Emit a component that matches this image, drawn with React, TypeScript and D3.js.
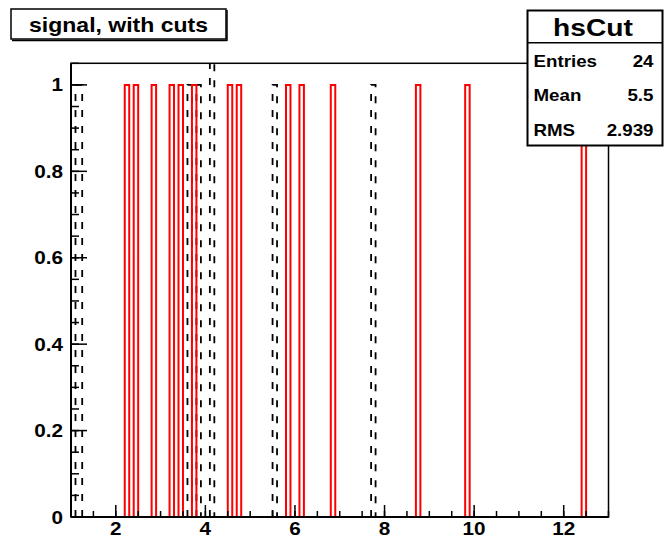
import React from 'react';
import * as d3 from 'd3';

// ---- data ----
const xDomain: [number, number] = [1, 13];
const yDomain: [number, number] = [0, 1.05];
const binWidth = 0.1;
const cutBinLow = [2.2, 2.4, 2.8, 3.2, 3.4, 3.7, 4.5, 4.7, 5.8, 6.1, 6.8, 8.7, 9.8, 12.4];
const cutBinContent = [1, 1, 1, 1, 1, 1, 1, 1, 1, 1, 1, 1, 1, 1];
const refBinLow = [1.1, 3.6, 3.8, 4.1, 5.5, 7.7];
const refBinHigh = [1.25, 3.7, 3.9, 4.2, 5.6, 7.8];
const refBinContent = [1, 1, 1, 2, 1, 1];
const xTickValues = [2, 4, 6, 8, 10, 12];
const xTickLabels = ['2', '4', '6', '8', '10', '12'];
const yTickValues = [0, 0.2, 0.4, 0.6, 0.8, 1];
const yTickLabels = ['0', '0.2', '0.4', '0.6', '0.8', '1'];
const titleText = 'signal, with cuts';
const statsName = 'hsCut';
const statsLabels = ['Entries', 'Mean', 'RMS'];
const statsValues = ['24', '5.5', '2.939'];

const FONT = '"Liberation Sans", Arial, Helvetica, sans-serif';
const SX = 1.15;

function SText(props: { x: number; y: number; size: number; anchor?: string; children: React.ReactNode }) {
  const { x, y, size, anchor = 'start', children } = props;
  return (
    <text
      transform={`translate(${x},${y}) scale(${SX},1)`}
      textAnchor={anchor as any}
      fontFamily={FONT}
      fontWeight="bold"
      fontSize={size}
      fill="#000"
    >
      {children}
    </text>
  );
}

export default function App() {
  const W = 665;
  const H = 542;
  const left = 71;
  const right = 608.5;
  const top = 63.3;
  const bottom = 517;

  const x = d3.scaleLinear().domain(xDomain).range([left, right]);
  const y = d3.scaleLinear().domain(yDomain).range([bottom, top]);

  const xMinor = d3.range(xDomain[0], xDomain[1] + 1e-6, 0.5);
  const yMinor = d3.range(0, yDomain[1] + 1e-6, 0.05);

  const barPath = (lo: number, hi: number, v: number) => {
    const p = d3.path();
    p.moveTo(x(lo), y(0));
    p.lineTo(x(lo), y(v));
    p.lineTo(x(hi), y(v));
    p.lineTo(x(hi), y(0));
    return p.toString();
  };

  return (
    <svg width={W} height={H} style={{ position: 'absolute', left: 0, top: 0, background: '#fff' }}>
      <defs>
        <clipPath id="frameClip">
          <rect x={left} y={top} width={right - left} height={bottom - top} />
        </clipPath>
      </defs>
      <rect x={0} y={0} width={W} height={H} fill="#fff" />

      <g clipPath="url(#frameClip)">
        {refBinLow.map((lo, i) => (
          <path
            key={'r' + i}
            d={barPath(lo, refBinHigh[i], refBinContent[i])}
            fill="none"
            stroke="#000"
            strokeWidth={1.8}
            strokeDasharray="7,9"
          />
        ))}
        {cutBinLow.map((lo, i) => (
          <path
            key={'c' + i}
            d={barPath(lo, lo + binWidth, cutBinContent[i])}
            fill="none"
            stroke="#ff0000"
            strokeWidth={2}
          />
        ))}
      </g>

      {/* frame */}
      <rect x={left} y={top} width={right - left} height={bottom - top} fill="none" stroke="#000" strokeWidth={1.5} />
      <line x1={left} x2={right} y1={bottom} y2={bottom} stroke="#000" strokeWidth={2} />
      <line x1={left} x2={left} y1={top} y2={bottom} stroke="#000" strokeWidth={2} />

      {/* x ticks */}
      {xMinor.map((v, i) => (
        <line key={'xm' + i} x1={x(v)} x2={x(v)} y1={bottom} y2={bottom - 6} stroke="#000" strokeWidth={1.5} />
      ))}
      {xTickValues.map((v, i) => (
        <line key={'xM' + i} x1={x(v)} x2={x(v)} y1={bottom} y2={bottom - 12} stroke="#000" strokeWidth={1.5} />
      ))}
      {xTickValues.map((v, i) => (
        <SText key={'xl' + i} x={x(v)} y={535} size={18} anchor="middle">
          {xTickLabels[i]}
        </SText>
      ))}

      {/* y ticks */}
      {yMinor.map((v, i) => (
        <line key={'ym' + i} x1={left} x2={left + 8} y1={y(v)} y2={y(v)} stroke="#000" strokeWidth={1.5} />
      ))}
      {yTickValues.map((v, i) => (
        <line key={'yM' + i} x1={left} x2={left + 16} y1={y(v)} y2={y(v)} stroke="#000" strokeWidth={1.5} />
      ))}
      {yTickValues.map((v, i) => (
        <SText key={'yl' + i} x={63} y={y(v) + 6.5} size={18} anchor="end">
          {yTickLabels[i]}
        </SText>
      ))}

      {/* title box */}
      <rect x={11} y={9} width={215} height={30} fill="#fff" stroke="#000" strokeWidth={1.5} />
      <line x1={227} x2={227} y1={10} y2={41} stroke="#000" strokeWidth={1.5} />
      <line x1={12} x2={227} y1={40.5} y2={40.5} stroke="#000" strokeWidth={1.5} />
      <SText x={118.5} y={31.5} size={20} anchor="middle">
        {titleText}
      </SText>

      {/* stats box */}
      <rect x={527.5} y={10.5} width={135} height={135} fill="#fff" stroke="#000" strokeWidth={2} />
      <line x1={527.5} x2={662.5} y1={42.7} y2={42.7} stroke="#000" strokeWidth={1.5} />
      <SText x={593} y={36} size={24.5} anchor="middle">
        {statsName}
      </SText>
      {statsLabels.map((lab, i) => (
        <SText key={'sl' + i} x={533.5} y={[66.7, 100.7, 135.5][i]} size={16.3}>
          {lab}
        </SText>
      ))}
      {statsValues.map((val, i) => (
        <SText key={'sv' + i} x={653.5} y={[66.7, 100.7, 135.5][i]} size={16.3} anchor="end">
          {val}
        </SText>
      ))}
    </svg>
  );
}
